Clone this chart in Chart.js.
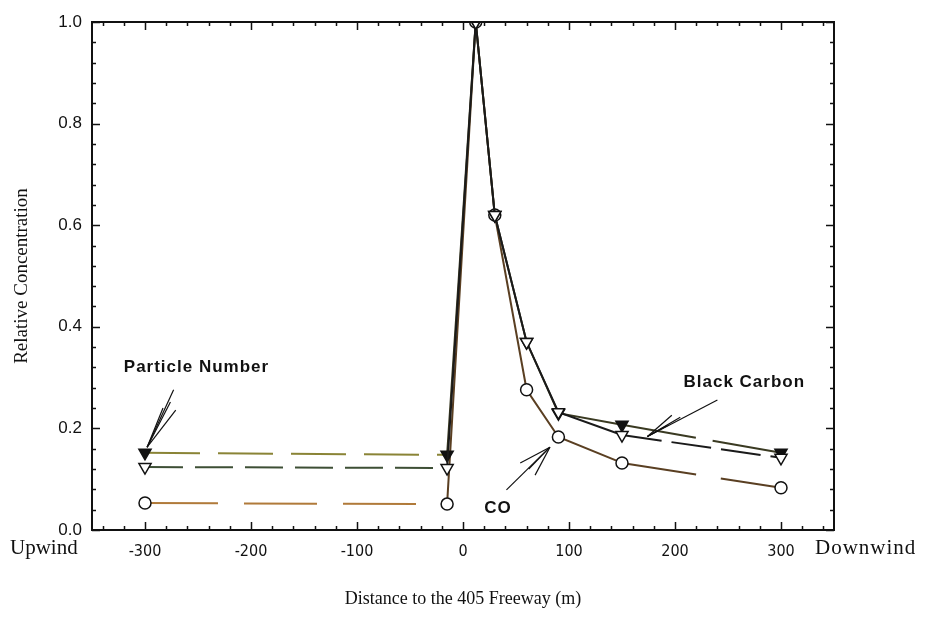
<!DOCTYPE html>
<html>
<head>
<meta charset="utf-8">
<script src="https://cdn.jsdelivr.net/npm/chart.js@4.4.1/dist/chart.umd.min.js"></script>
<style>
  body { margin: 0; background: #fff; }
  #wrap { width: 930px; height: 618px; }
</style>
</head>
<body>
<div id="wrap"><canvas id="myChart" width="930" height="618"></canvas></div>
<script>
// distances (m) to the freeway, negative = upwind
const distances = [-300, -15, 12, 30, 60, 90, 150, 300];
const particleNumber = [0.152, 0.148, 1.0, 0.62, 0.37, 0.23, 0.207, 0.152];
const blackCarbon = [0.124, 0.122, 1.0, 0.62, 0.37, 0.232, 0.187, 0.142];
const carbonMonoxide = [0.053, 0.051, 1.0, 0.62, 0.276, 0.183, 0.132, 0.083];

const xTicks = [-300, -200, -100, 0, 100, 200, 300];
const yTicks = [0, 0.2, 0.4, 0.6, 0.8, 1.0];

function toPoints(ys) {
    return distances.map(function (d, i) { return { x: d, y: ys[i] }; });
}

// dash pattern / colour of a segment depending on where it lies
function segStyle(upColor, upDash, farDash, nearColor) {
    return {
        borderColor: function (c) {
            return c.p1.parsed.x < 0 ? upColor : nearColor;
        },
        borderDash: function (c) {
            if (c.p1.parsed.x < 0) return upDash;
            if (c.p0.parsed.x >= 150) return farDash;
            return undefined;
        }
    };
}

let ctx = document.getElementById('myChart').getContext('2d');

const decorPlugin = {
    id: 'decor',
    afterDraw: function (chart) {
        let g = chart.ctx;
        let a = chart.chartArea;
        let xs = chart.scales.x;
        let ys = chart.scales.y;
        g.save();
        g.strokeStyle = '#111';
        g.lineWidth = 2;
        g.strokeRect(a.left, a.top, a.right - a.left, a.bottom - a.top);

        // inward ticks on all four sides
        g.lineWidth = 1.5;
        for (let v = -340; v <= 340; v += 20) {
            let px = Math.round(xs.getPixelForValue(v)) + 0.5;
            let len = (v % 100 === 0) ? 8 : 4;
            g.beginPath();
            g.moveTo(px, a.bottom); g.lineTo(px, a.bottom - len);
            g.moveTo(px, a.top); g.lineTo(px, a.top + len);
            g.stroke();
        }
        for (let k = 0; k <= 25; k++) {
            let v = k * 0.04;
            let py = Math.round(ys.getPixelForValue(v)) + 0.5;
            let len = (k % 5 === 0) ? 8 : 4;
            g.beginPath();
            g.moveTo(a.left, py); g.lineTo(a.left + len, py);
            g.moveTo(a.right, py); g.lineTo(a.right - len, py);
            g.stroke();
        }

        // Upwind / Downwind words beside the tick labels
        g.fillStyle = '#111';
        g.font = '21px "Liberation Serif", serif';
        g.textBaseline = 'middle';
        let yLab = a.bottom + 18;
        g.textAlign = 'left';
        g.fillText('Upwind', 10, yLab);
        g.letterSpacing = '1px';
        g.fillText('Downwind', a.right - 19, yLab);

        // curve labels with fan arrows
        g.font = 'bold 17px "Liberation Sans", Arial, sans-serif';
        g.textAlign = 'left';
        g.fillText('Particle Number', xs.getPixelForValue(-320), ys.getPixelForValue(0.32));
        g.fillText('Black Carbon', xs.getPixelForValue(208), ys.getPixelForValue(0.29));
        g.textAlign = 'center';
        g.fillText('CO', xs.getPixelForValue(33), ys.getPixelForValue(0.043));
        g.letterSpacing = '0px';

        g.lineWidth = 1.2;
        function fan(tip, starts) {
            let tx = xs.getPixelForValue(tip[0]), ty = ys.getPixelForValue(tip[1]);
            starts.forEach(function (s) {
                g.beginPath();
                g.moveTo(xs.getPixelForValue(s[0]), ys.getPixelForValue(s[1]));
                g.lineTo(tx, ty);
                g.stroke();
            });
        }
        fan([-298, 0.163], [[-273, 0.276], [-276, 0.252], [-271, 0.236], [-283, 0.24]]);
        fan([174, 0.184], [[240, 0.256], [197, 0.226], [193, 0.206], [205, 0.222]]);
        fan([82, 0.163], [[41, 0.079], [54, 0.132], [68, 0.108], [62, 0.12]]);
        g.restore();
    }
};

let myChart = new Chart(ctx, {
    type: 'scatter',
    data: {
        datasets: [
            {
                label: 'Black Carbon',
                data: toPoints(blackCarbon),
                showLine: true,
                borderWidth: 2,
                pointStyle: 'triangle',
                rotation: 180,
                pointRadius: 7,
                pointBorderWidth: 1.5,
                pointBorderColor: '#111',
                pointBackgroundColor: '#fff',
                segment: segStyle('#3d4f35', [38, 12], [40, 10], '#1a1a1a')
            },
            {
                label: 'Particle Number',
                data: toPoints(particleNumber),
                showLine: true,
                borderWidth: 2,
                pointStyle: 'triangle',
                rotation: 180,
                pointRadius: 7,
                pointBorderWidth: 1.5,
                pointBorderColor: '#111',
                pointBackgroundColor: '#111',
                segment: segStyle('#8a8436', [55, 18], [75, 17], '#3a3a22')
            },
            {
                label: 'CO',
                data: toPoints(carbonMonoxide),
                showLine: true,
                borderWidth: 2,
                pointStyle: 'circle',
                pointRadius: 6,
                pointBorderWidth: 1.5,
                pointBorderColor: '#111',
                pointBackgroundColor: '#fff',
                segment: segStyle('#b07a3a', [73, 26], [75, 25], '#5a3f22')
            }
        ]
    },
    options: {
        responsive: false,
        animation: false,
        layout: { padding: { top: 22, right: 96, left: 0, bottom: 6 } },
        plugins: {
            legend: { display: false },
            tooltip: { enabled: false }
        },
        scales: {
            x: {
                type: 'linear',
                min: -350,
                max: 350,
                afterBuildTicks: function (scale) {
                    scale.ticks = xTicks.map(function (v) { return { value: v }; });
                },
                afterFit: function (scale) { scale.height = 82; },
                grid: { display: false, drawTicks: false },
                border: { display: false },
                ticks: {
                    padding: 12,
                    color: '#111',
                    font: { family: '"DejaVu Sans Condensed", "Liberation Sans", sans-serif', size: 16 },
                    maxRotation: 0
                },
                title: {
                    display: true,
                    text: 'Distance to the 405 Freeway (m)',
                    color: '#111',
                    font: { family: '"Liberation Serif", serif', size: 18 },
                    padding: { top: 0, bottom: 2 }
                }
            },
            y: {
                type: 'linear',
                min: 0,
                max: 1.0,
                afterBuildTicks: function (scale) {
                    scale.ticks = yTicks.map(function (v) { return { value: v }; });
                },
                afterFit: function (scale) { scale.width = 92; },
                grid: { display: false, drawTicks: false },
                border: { display: false },
                ticks: {
                    padding: 10,
                    color: '#111',
                    font: { family: '"Liberation Sans", Arial, sans-serif', size: 17 },
                    callback: function (v) { return v.toFixed(1); }
                },
                title: {
                    display: true,
                    text: 'Relative Concentration',
                    color: '#111',
                    font: { family: '"Liberation Serif", serif', size: 19 },
                    padding: { top: 11, bottom: 0 }
                }
            }
        }
    },
    plugins: [decorPlugin]
});
</script>
</body>
</html>
